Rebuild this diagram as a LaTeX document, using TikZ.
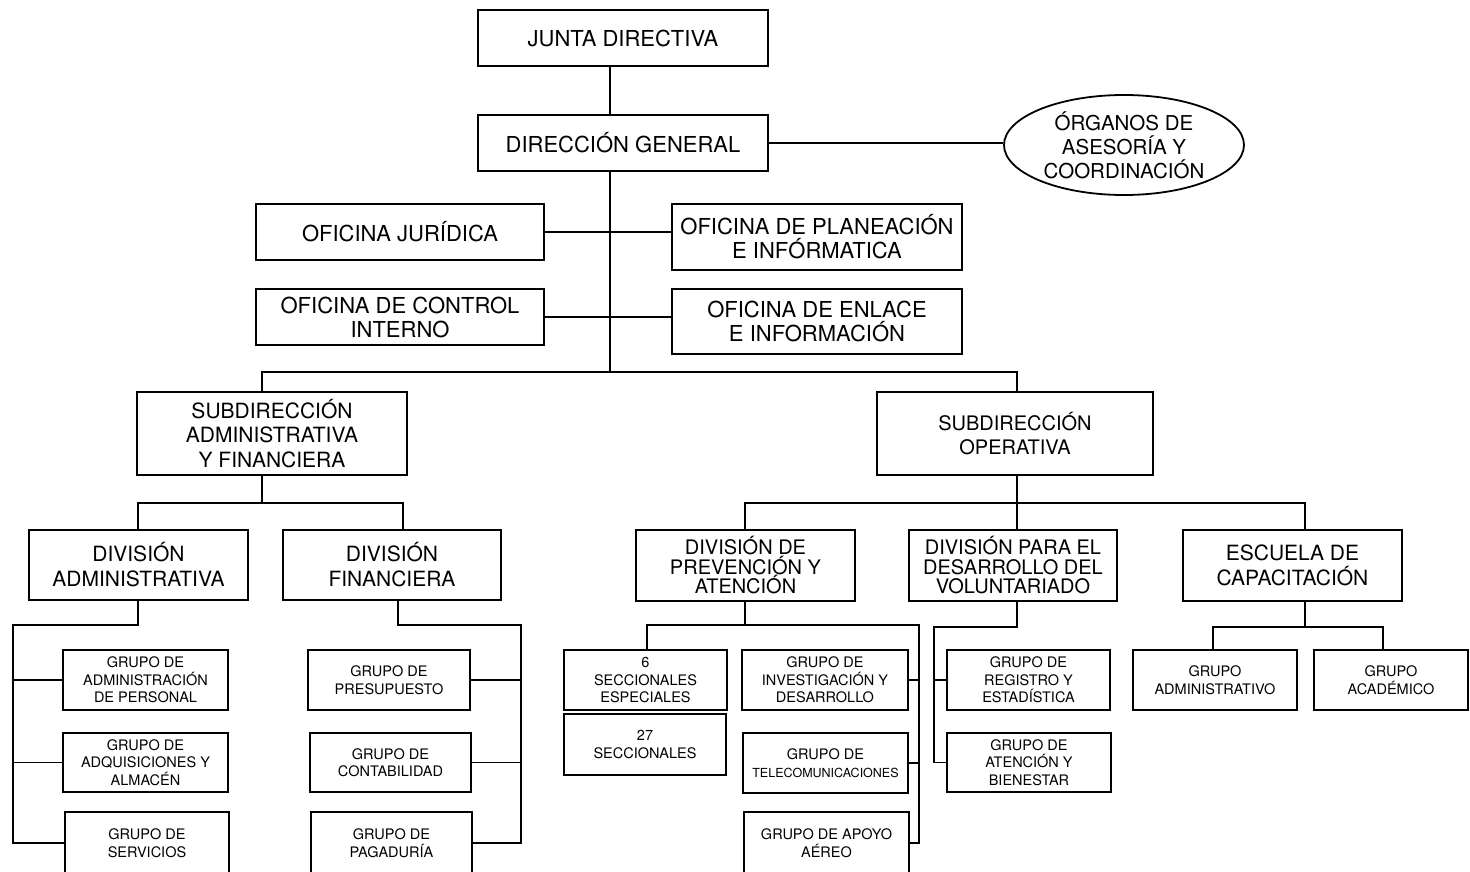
\documentclass[tikz,border=0pt]{standalone}
\usepackage{fontspec}
\setmainfont{TeX Gyre Heros}
\usetikzlibrary{shapes.geometric}

% Box given by its corners (x1,y1) and (x2,y2), y growing downwards
\newcommand{\ubox}[7][]{%
  \node[box,#1,minimum width={(#5-#3)*1pt},minimum height={(#6-#4)*1pt}]
    (#2) at ({(#3+#5)/2},{(#4+#6)/2}) {#7};}

\tikzset{
  box/.style={draw, line width=2.2pt, align=center, inner sep=0pt, fill=white},
  conn/.style={draw, line width=1.8pt},
  ftop/.style={font=\fontsize{22}{24}\selectfont},
  fsub/.style={font=\fontsize{21}{24.5}\selectfont},
  fsubop/.style={font=\fontsize{20}{24}\selectfont},
  fdiv/.style={font=\fontsize{21}{25}\selectfont},
  fdivn/.style={font=\fontsize{20}{19.5}\selectfont},
  fgrp/.style={font=\fontsize{14.5}{17.5}\selectfont},
  fgrps/.style={font=\fontsize{12.5}{17.5}\selectfont},
}

\begin{document}
\begin{tikzpicture}[x=1pt,y=-1pt]
\useasboundingbox (0,0) rectangle (1470,872);
\fill[white] (0,0) rectangle (1470,872);
\begin{scope}
\clip (0,0) rectangle (1470,872);

% ---- top management
\ubox[ftop]{jd}{478}{10}{768}{66}{JUNTA DIRECTIVA}
\ubox[ftop]{dg}{478}{115}{768}{171}{DIRECCIÓN GENERAL}
\node[draw, ellipse, line width=1.8pt, inner sep=0pt, align=center,
      minimum width=240pt, minimum height=100pt,
      font=\fontsize{20.5}{24}\selectfont] (org) at (1124,145)
      {ÓRGANOS DE\\ASESORÍA Y\\COORDINACIÓN};

% ---- staff offices
\ubox[ftop]{oj}{256}{204}{544}{260}{OFICINA JURÍDICA}
\ubox[ftop]{op}{672}{204}{962}{270}{OFICINA DE PLANEACIÓN\\E INFÓRMATICA}
\ubox[ftop]{oc}{256}{289}{544}{345}{OFICINA DE CONTROL\\INTERNO}
\ubox[ftop]{oe}{672}{289}{962}{354}{OFICINA DE ENLACE\\E INFORMACIÓN}

% ---- sub-directorates
\ubox[fsub]{saf}{137}{392}{407}{475}{SUBDIRECCIÓN\\ADMINISTRATIVA\\Y FINANCIERA}
\ubox[fsubop]{so}{877}{392}{1153}{475}{SUBDIRECCIÓN\\OPERATIVA}

% ---- divisions
\ubox[fdiv]{da}{29}{530}{248}{600}{DIVISIÓN\\ADMINISTRATIVA}
\ubox[fdiv]{df}{283}{530}{501}{600}{DIVISIÓN\\FINANCIERA}
\ubox[fdivn]{dp}{636}{530}{855}{601}{DIVISIÓN DE\\PREVENCIÓN Y\\ATENCIÓN}
\ubox[fdivn]{dv}{909}{530}{1117}{601}{DIVISIÓN PARA EL\\DESARROLLO DEL\\VOLUNTARIADO}
\ubox[fdiv]{esc}{1183}{530}{1402}{601}{ESCUELA DE\\CAPACITACIÓN}

% ---- groups
\ubox[fgrp]{gap}{63}{650}{228}{710}{GRUPO DE\\ADMINISTRACIÓN\\DE PERSONAL}
\ubox[fgrp]{gaq}{63}{733}{228}{792}{GRUPO DE\\ADQUISICIONES Y\\ALMACÉN}
\ubox[fgrp]{gs}{65}{812}{229}{874}{GRUPO DE\\SERVICIOS}
\ubox[fgrp]{gpr}{308}{650}{470}{710}{GRUPO DE\\PRESUPUESTO}
\ubox[fgrp]{gc}{310}{733}{471}{792}{GRUPO DE\\CONTABILIDAD}
\ubox[fgrp]{gpg}{311}{812}{472}{874}{GRUPO DE\\PAGADURÍA}
\ubox[fgrp]{s6}{564}{650}{727}{710}{6\\SECCIONALES\\ESPECIALES}
\ubox[fgrp]{s27}{564}{714}{726}{775}{27\\SECCIONALES}
\ubox[fgrp]{gi}{742}{650}{908}{710}{GRUPO DE\\INVESTIGACIÓN Y\\DESARROLLO}
\ubox[fgrps]{gt}{743}{733}{908}{793}{\fontsize{14.5}{17.5}\selectfont GRUPO DE\\TELECOMUNICACIONES}
\ubox[fgrp]{gae}{744}{812}{909}{874}{GRUPO DE APOYO\\AÉREO}
\ubox[fgrp]{gr}{947}{650}{1110}{710}{GRUPO DE\\REGISTRO Y\\ESTADÍSTICA}
\ubox[fgrp]{gab}{947}{733}{1111}{792}{GRUPO DE\\ATENCIÓN Y\\BIENESTAR}
\ubox[fgrp]{gad}{1133}{650}{1297}{710}{GRUPO\\ADMINISTRATIVO}
\ubox[fgrp]{gac}{1314}{650}{1468}{710}{GRUPO\\ACADÉMICO}

% ---- junction points
\coordinate (tr) at (610,372);
\coordinate (b1l) at (262,372);
\coordinate (b1r) at (1017,372);
\coordinate (s1) at (262,503);
\coordinate (s1l) at (138,503);
\coordinate (s1r) at (403,503);
\coordinate (a1) at (138,625);
\coordinate (a2) at (13,625);
\coordinate (f1) at (398,625);
\coordinate (f2) at (521,625);
\coordinate (o1) at (1017,503);
\coordinate (o1l) at (745,503);
\coordinate (o1r) at (1305,503);
\coordinate (p1) at (745,625);
\coordinate (p2) at (647,625);
\coordinate (p3) at (919,625);
\coordinate (v1) at (1017,627);
\coordinate (v2) at (934,627);
\coordinate (e1) at (1305,627);
\coordinate (e2) at (1213,627);
\coordinate (e3) at (1383,627);

% ---- connectors: top
\draw[conn] (tr |- jd.south) -- (tr |- dg.north);
\draw[conn] (tr |- dg.south) -- (tr);
\draw[conn] (dg.east) -- (dg.east -| org.west);
\draw[conn] (oj.east) -- (oj.east -| op.west);
\draw[conn] (oc.east) -- (oc.east -| oe.west);
\draw[conn] (saf.north -| b1l) -- (b1l) -- (b1r) -- (so.north -| b1r);

% ---- connectors: administrative side
\draw[conn] (saf.south -| s1) -- (s1);
\draw[conn] (da.north -| s1l) -- (s1l) -- (s1r) -- (df.north -| s1r);
\draw[conn] (da.south -| a1) |- (a2) |- (gs.west);
\draw[conn] (gap.west) -- (gap.west -| a2);
\draw[conn] (gaq.west) -- (gaq.west -| a2);
\draw[conn] (df.south -| f1) |- (f2) |- (gpg.east);
\draw[conn] (gpr.east) -- (gpr.east -| f2);
\draw[conn] (gc.east) -- (gc.east -| f2);

% ---- connectors: operative side
\draw[conn] (so.south -| o1) -- (dv.north -| o1);
\draw[conn] (dp.north -| o1l) |- (o1r) -- (esc.north -| o1r);
\draw[conn] (dp.south -| p1) -- (p1);
\draw[conn] (s6.north -| p2) |- (p3) |- (gae.east);
\draw[conn] (gi.east) -- (gi.east -| p3);
\draw[conn] (gt.east) -- (gt.east -| p3);
\draw[conn] (dv.south -| v1) -- (v1) -- (v2) |- (gab.west);
\draw[conn] (gr.west) -- (gr.west -| v2);
\draw[conn] (esc.south -| e1) -- (e1);
\draw[conn] (gad.north -| e2) |- (e3) -- (gac.north -| e3);
\end{scope}
\end{tikzpicture}
\end{document}
